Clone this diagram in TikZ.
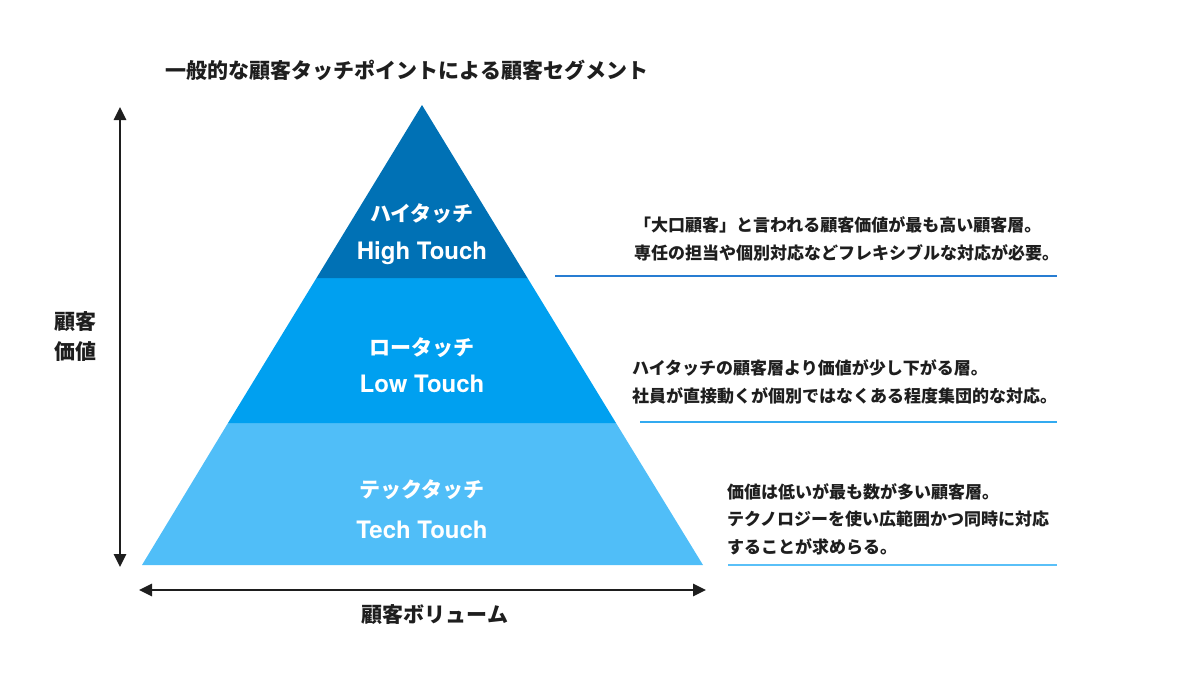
\documentclass[tikz,border=0pt]{standalone}
\usepackage{fontspec}
\usetikzlibrary{arrows.meta}
\newfontfamily\jp{Noto Sans CJK JP}
\newfontfamily\lat{TeX Gyre Heros}
\definecolor{topblue}{RGB}{0,113,181}
\definecolor{midblue}{RGB}{0,160,240}
\definecolor{lowblue}{RGB}{80,190,248}
\definecolor{lineA}{RGB}{40,125,210}
\definecolor{lineB}{RGB}{50,170,240}
\definecolor{lineC}{RGB}{90,192,248}
\definecolor{ink}{RGB}{30,30,30}
\tikzset{
  layerjp/.style={text=white,font=\jp\bfseries\fontsize{21}{24}\selectfont,inner sep=0pt},
  layeren/.style={text=white,font=\lat\bfseries\fontsize{24}{27}\selectfont,inner sep=0pt},
  desc/.style={text=ink,font=\jp\bfseries\fontsize{17}{27.5}\selectfont,align=left,inner sep=0pt,anchor=west},
  axislabel/.style={text=ink,font=\jp\bfseries\fontsize{21}{30}\selectfont,align=center,inner sep=0pt},
  axis/.style={line width=2.6pt,ink,{Triangle[length=13pt,width=12pt]}-{Triangle[length=13pt,width=12pt]}},
  sep/.style={line width=2pt}
}
\begin{document}
\begin{tikzpicture}[x=1pt,y=-1pt]
\useasboundingbox (0,0) rectangle (1182,678);
% title
\node[text=ink,font=\jp\bfseries\fontsize{21}{24}\selectfont,inner sep=0pt] (title) at (407,70) {一般的な顧客タッチポイントによる顧客セグメント};
% pyramid
\fill[lowblue] (228,423) -- (616,423) -- (703,565) -- (142,565) -- cycle;
\fill[midblue] (316.5,278) -- (527.5,278) -- (616,423) -- (228,423) -- cycle;
\fill[topblue] (422,105) -- (527.5,278) -- (316.5,278) -- cycle;
% layer labels
\node[layerjp] (hjp) at (422,214) {ハイタッチ};
\node[layeren] (hen) at (422,253) {High Touch};
\node[layerjp] (ljp) at (422,348) {ロータッチ};
\node[layeren] (len) at (422,384) {Low Touch};
\node[layerjp] (tjp) at (422,490) {テックタッチ};
\node[layeren] (ten) at (422,530) {Tech Touch};
% descriptions
\node[desc] (d1) at (634,239) {「大口顧客」と言われる顧客価値が最も高い顧客層。\\専任の担当や個別対応などフレキシブルな対応が必要。};
\node[desc] (d2) at (632,382) {ハイタッチの顧客層より価値が少し下がる層。\\社員が直接動くが個別ではなくある程度集団的な対応。};
\node[desc] (d3) at (727,519) {価値は低いが最も数が多い顧客層。\\テクノロジーを使い広範囲かつ同時に対応\\することが求めらる。};
% separator lines
\coordinate (a1) at (555,276); \coordinate (a2) at (1057,276);
\coordinate (b1) at (640,422); \coordinate (b2) at (1057,422);
\coordinate (c1) at (728,565); \coordinate (c2) at (1057,565);
\draw[sep,lineA] (a1) -- (a2);
\draw[sep,lineB] (b1) -- (b2);
\draw[sep,lineC] (c1) -- (c2);
% axes
\coordinate (vtop) at (120,107);
\coordinate (vbot) at (120,567);
\coordinate (hl) at (139,590);
\coordinate (hr) at (706,590);
\draw[axis] (vbot) -- (vtop);
\draw[axis] (hl) -- (hr);
\node[axislabel] (vlabel) at (75,337) {顧客\\価値};
\node[axislabel] (hlabel) at (435,615) {顧客ボリューム};
\end{tikzpicture}
\end{document}
